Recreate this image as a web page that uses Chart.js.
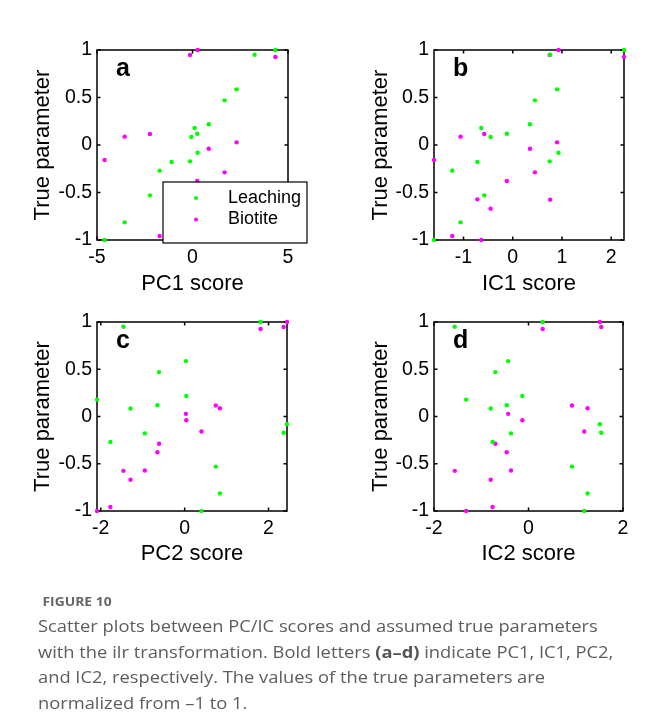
<!DOCTYPE html>
<html><head><meta charset="utf-8">
<script src="https://cdn.jsdelivr.net/npm/chart.js@4.4.1/dist/chart.umd.min.js"></script>
<style>
html,body{margin:0;padding:0;background:#fff;}
body{width:646px;height:724px;position:relative;overflow:hidden;}
canvas{position:absolute;}
#cap{position:absolute;left:38px;top:594px;width:560px;font-family:"Open Sans",sans-serif;color:#5c5c5c;transform:scaleX(1.11);transform-origin:0 0;white-space:nowrap;}
#cap .fig{font-size:12.5px;font-weight:700;color:#666;line-height:16px;padding-left:4px;}
#cap .txt{font-size:16.5px;line-height:25.5px;margin-top:3px;}
#cap b{font-weight:700;color:#555;}
</style></head><body>
<canvas id="ca" width="323" height="300" style="left:0;top:0"></canvas>
<canvas id="cb" width="323" height="300" style="left:323px;top:0"></canvas>
<canvas id="cc" width="323" height="300" style="left:0;top:300px"></canvas>
<canvas id="cd" width="323" height="300" style="left:323px;top:300px"></canvas>
<div id="cap"><div class="fig">FIGURE 10</div><div class="txt">Scatter plots between PC/IC scores and assumed true parameters<br>with the ilr transformation. Bold letters <b>(a–d)</b> indicate PC1, IC1, PC2,<br>and IC2, respectively. The values of the true parameters are<br>normalized from –1 to 1.</div></div>
<script>
// ---- data (15 samples) ----
const seriesNames = ["Leaching", "Biotite"];
const leaching = [1.0, 0.95, 0.586, 0.47, 0.218, 0.179, 0.119, 0.084, -0.081, -0.172, -0.179, -0.27, -0.53, -0.814, -1.0];
const biotite  = [0.926, -0.575, 0.028, -0.288, -0.039, -1.0, -0.379, -0.67, 1.0, 0.947, -0.572, -0.958, 0.116, 0.088, -0.158];
const pc1 = [4.34, 3.25, 2.31, 1.68, 0.85, 0.11, 0.25, -0.06, 0.27, -0.13, -1.09, -1.72, -2.23, -3.55, -4.6];
const ic1 = [2.26, 0.76, 0.90, 0.45, 0.35, -0.64, -0.12, -0.45, 0.93, 0.75, -0.72, -1.23, -0.58, -1.06, -1.6];
const pc2 = [1.81, -1.46, 0.03, -0.61, 0.04, -2.09, -0.65, -1.29, 2.44, 2.36, -0.95, -1.77, 0.74, 0.84, 0.40];
const ic2 = [0.30, -1.56, -0.43, -0.70, -0.13, -1.32, -0.46, -0.80, 1.51, 1.54, -0.37, -0.76, 0.92, 1.25, 1.18];
const yTicks = [-1, -0.5, 0, 0.5, 1];
const xTicksA = [-5, 0, 5];
const xTicksB = [-1, 0, 1, 2];
const xTicksC = [-2, 0, 2];
const xTicksD = [-2, 0, 2];
const panelLetters = ["a", "b", "c", "d"];
const xTitles = ["PC1 score", "IC1 score", "PC2 score", "IC2 score"];
const yTitle = "True parameter";

const FAM = '"Liberation Sans", Arial, Helvetica, sans-serif';
const GREEN = '#00ff00', MAGENTA = '#ff00ff';
const TICK_SIZE = 19.5, TITLE_SIZE = 22;

const framePlugin = {
  id: 'frame',
  beforeDatasetsDraw(chart) {
    const {ctx, chartArea: {left, right, top, bottom}, scales: {x, y}} = chart;
    ctx.save();
    ctx.strokeStyle = '#000';
    ctx.lineWidth = 1.5;
    ctx.strokeRect(left, top, right - left, bottom - top);
    ctx.beginPath();
    const tl = 3.5;
    x.ticks.forEach(t => {
      const p = x.getPixelForValue(t.value);
      ctx.moveTo(p, bottom); ctx.lineTo(p, bottom - tl);
      ctx.moveTo(p, top); ctx.lineTo(p, top + tl);
    });
    y.ticks.forEach(t => {
      const p = y.getPixelForValue(t.value);
      ctx.moveTo(left, p); ctx.lineTo(left + tl, p);
      ctx.moveTo(right, p); ctx.lineTo(right - tl, p);
    });
    ctx.stroke();
    ctx.restore();
  },
  afterDatasetsDraw(chart, args, opts) {
    const {ctx, chartArea: {left, top}} = chart;
    ctx.save();
    ctx.fillStyle = '#000';
    ctx.font = 'bold 25px ' + FAM;
    ctx.textBaseline = 'alphabetic';
    ctx.fillText(opts.letter, left + 19, top + 26);
    ctx.restore();
  }
};

const legendPlugin = {
  id: 'boxLegend',
  afterDraw(chart, args, opts) {
    if (!opts.show) return;
    const {ctx, chartArea: {left, top}} = chart;
    const bx = left + 66, by = top + 132, bw = 144, bh = 61;
    ctx.save();
    ctx.fillStyle = '#fff';
    ctx.fillRect(bx, by, bw, bh);
    ctx.strokeStyle = '#000';
    ctx.lineWidth = 1.2;
    ctx.strokeRect(bx, by, bw, bh);
    ctx.font = '18px ' + FAM;
    ctx.textBaseline = 'middle';
    chart.data.datasets.forEach((ds, i) => {
      const yy = by + 16 + i * 21.5;
      ctx.fillStyle = ds.backgroundColor;
      ctx.beginPath(); ctx.arc(bx + 33, yy, 2, 0, Math.PI * 2); ctx.fill();
      ctx.fillStyle = '#000';
      ctx.fillText(ds.label, bx + 65, yy);
    });
    ctx.restore();
  }
};

function pts(xs, ys) { return xs.map((v, i) => ({x: v, y: ys[i]})); }

function makeChart(id, xs, xMin, xMax, xTicks, idx, g, showLegend) {
  return new Chart(document.getElementById(id), {
    type: 'scatter',
    data: {
      datasets: [
        {label: seriesNames[0], data: pts(xs, leaching), backgroundColor: GREEN, borderWidth: 0, pointRadius: 2.2, clip: false},
        {label: seriesNames[1], data: pts(xs, biotite), backgroundColor: MAGENTA, borderWidth: 0, pointRadius: 2.2, clip: false}
      ]
    },
    options: {
      responsive: false,
      animation: false,
      devicePixelRatio: 1,
      layout: {padding: {left: 0, top: g.padT, right: g.padR, bottom: 0}},
      plugins: {legend: {display: false}, tooltip: {enabled: false},
        frame: {letter: panelLetters[idx]}, boxLegend: {show: !!showLegend}},
      scales: {
        x: {
          type: 'linear', min: xMin, max: xMax,
          afterBuildTicks: s => { s.ticks = xTicks.map(v => ({value: v})); },
          afterFit: s => { s.height = g.xH; },
          grid: {display: false, drawTicks: false}, border: {display: false},
          ticks: {color: '#000', font: {family: FAM, size: TICK_SIZE}, padding: 6, maxRotation: 0, autoSkip: false, callback: v => String(v)},
          title: {display: true, text: xTitles[idx], color: '#000', font: {family: FAM, size: TITLE_SIZE}, padding: {top: 0, bottom: g.xTP}}
        },
        y: {
          type: 'linear', min: -1, max: 1,
          afterBuildTicks: s => { s.ticks = yTicks.map(v => ({value: v})); },
          afterFit: s => { s.width = g.yW; },
          grid: {display: false, drawTicks: false}, border: {display: false},
          ticks: {color: '#000', font: {family: FAM, size: TICK_SIZE}, padding: 5, autoSkip: false, callback: v => String(v)},
          title: {display: true, text: yTitle, color: '#000', font: {family: FAM, size: TITLE_SIZE}, padding: {top: g.yTP, bottom: 0}}
        }
      }
    },
    plugins: [framePlugin, legendPlugin]
  });
}

makeChart('ca', pc1, -5, 5, xTicksA, 0, {padT: 50, padR: 35, xH: 60, yW: 97, xTP: 3, yTP: 30}, true);
makeChart('cb', ic1, -1.6, 2.26, xTicksB, 1, {padT: 50, padR: 22, xH: 60, yW: 111, xTP: 3, yTP: 45});
makeChart('cc', pc2, -2.09, 2.44, xTicksC, 2, {padT: 22, padR: 36, xH: 89, yW: 97, xTP: 33, yTP: 30});
makeChart('cd', ic2, -2, 2, xTicksD, 3, {padT: 22, padR: 23, xH: 89, yW: 111, xTP: 33, yTP: 45});
</script>
</body></html>
